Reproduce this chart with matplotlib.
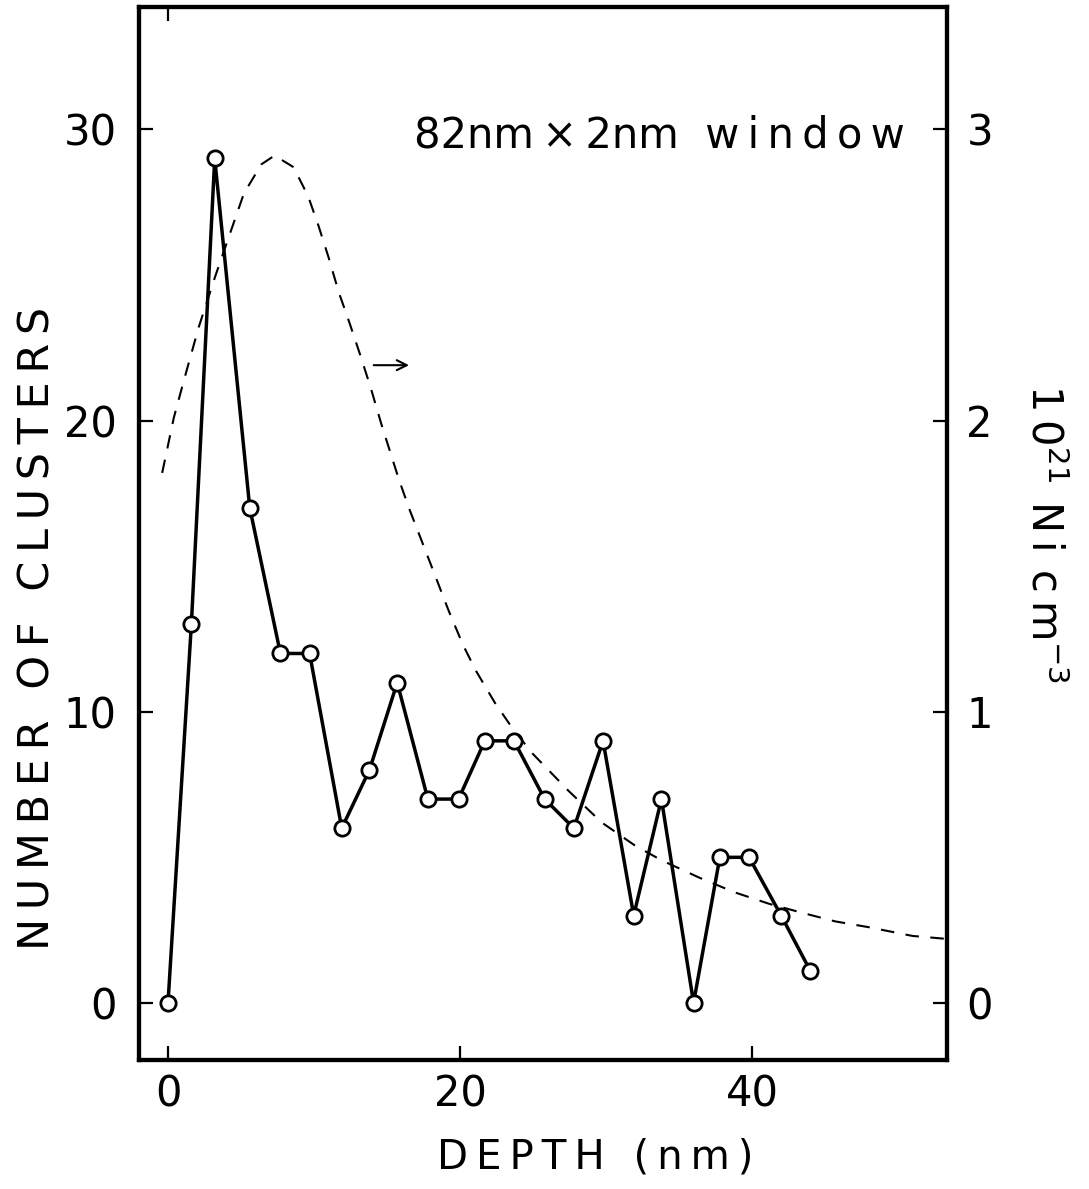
import matplotlib.pyplot as plt

# cluster counts per 2 nm depth slice (left axis)
depth = [0, 1.6, 3.2, 5.6, 7.7, 9.7, 11.9, 13.8, 15.7, 17.8, 19.9, 21.7,
         23.7, 25.8, 27.8, 29.8, 31.9, 33.8, 36.0, 37.8, 39.8, 42.0, 44.0]
clusters = [0, 13, 29, 17, 12, 12, 6, 8, 11, 7, 7, 9,
            9, 7, 6, 9, 3, 7, 0, 5, 5, 3, 1.1]

# Ni concentration profile, 10^21 Ni cm^-3 (right axis)
ni_depth = [-0.4, 0.4, 1.1, 2.1, 3.2, 4.3, 5.2, 6.4, 7.3, 8.6, 9.6, 10.3, 11.0,
            11.7, 12.4, 13.2, 13.9, 14.6, 15.8, 16.5, 18.2, 19.2, 20.2, 21.1,
            22.4, 23.5, 24.9, 27.4, 29.7, 32.0, 33.8, 36.4, 38.8, 41.2, 43.4,
            45.7, 48.0, 51.0, 53.3]
ni_conc = [1.82, 2.01, 2.14, 2.32, 2.49, 2.65, 2.78, 2.88, 2.91, 2.87, 2.77,
           2.67, 2.56, 2.44, 2.34, 2.22, 2.11, 1.99, 1.80, 1.70, 1.48, 1.35,
           1.23, 1.14, 1.03, 0.95, 0.86, 0.73, 0.62, 0.54, 0.49, 0.43, 0.38,
           0.34, 0.31, 0.28, 0.26, 0.23, 0.22]

x_ticks = [0, 20, 40]
left_ticks = [0, 10, 20, 30]
right_ticks = [0, 1, 2, 3]

plt.rcParams['font.family'] = ['DejaVu Sans']


def spaced(s):
    # wide lettering like the original stencil text
    return "\u2009".join(s)


fig = plt.figure(figsize=(10.89, 11.89), dpi=100)
ax = fig.add_axes([0.1276, 0.1085, 0.742, 0.8856])

ax.plot(depth, clusters, '-', color='black', linewidth=2.5, marker='o',
        markersize=11, markerfacecolor='white', markeredgecolor='black',
        markeredgewidth=2, zorder=3)

ax.set_xlim(-1.99, 53.36)
ax.set_ylim(-1.96, 34.2)
ax.set_xticks(x_ticks)
ax.set_yticks(left_ticks)
ax.tick_params(direction='in', length=10, width=1.6, labelsize=30, color='black')
ax.tick_params(axis='y', pad=16)
ax.tick_params(axis='x', pad=10)
for s in ax.spines.values():
    s.set_linewidth(3)

ax.set_xlabel(spaced("DEPTH (nm)"), fontsize=29)
ax.xaxis.set_label_coords(0.564, -0.074)
ax.set_ylabel(spaced("NUMBER OF CLUSTERS"), fontsize=31)
ax.yaxis.set_label_coords(-0.10, 0.41)

# only one tick on the top edge
top = ax.secondary_xaxis('top')
top.set_xticks([0])
top.set_xticklabels([])
top.tick_params(direction='in', length=10, width=1.6)

ax2 = ax.twinx()
ax2.plot(ni_depth, ni_conc, color='black', linewidth=1.5, dashes=(6.5, 5.5))
ax2.set_ylim(-0.196, 3.42)
ax2.set_yticks(right_ticks)
ax2.tick_params(direction='in', length=10, width=1.6, labelsize=30, pad=14)
ax2.set_ylabel("1\u20090$^{21}$\u2009\u2009N\u2009i\u2009\u2009c\u2009m$^{-3}$",
               fontsize=30, rotation=270, labelpad=52)
for s in ax2.spines.values():
    s.set_linewidth(3)

ax2.annotate("", xy=(16.7, 2.19), xytext=(13.9, 2.19),
             arrowprops=dict(arrowstyle='->', color='black', lw=1.5,
                             mutation_scale=18))

ax.text(50.5, 29.8, "82nm\u2009\u00d7\u20092nm  w\u2009i\u2009n\u2009d\u2009o\u2009w",
        fontsize=30, ha='right', va='center')

fig.savefig("out.png", dpi=100)
